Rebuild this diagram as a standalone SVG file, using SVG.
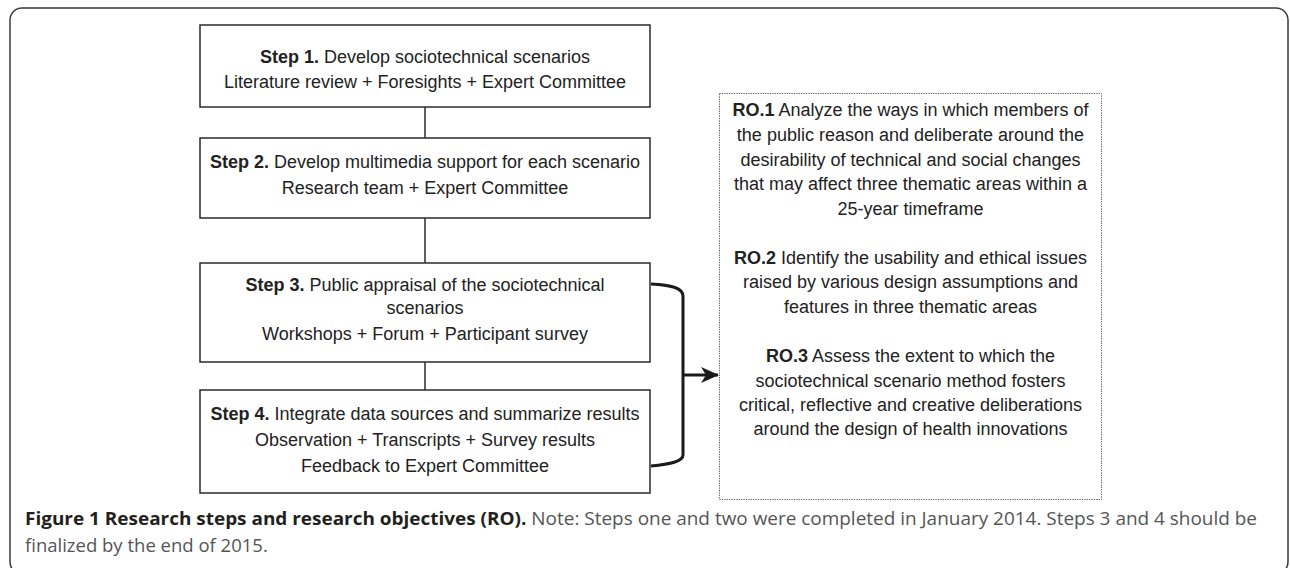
<svg xmlns="http://www.w3.org/2000/svg" width="1290" height="568" viewBox="0 0 1290 568">
<style>
.frame{fill:none;stroke:#3a3a3a;stroke-width:1.5}
.box{fill:#fff;stroke:#2b2b2b;stroke-width:1.5}
.ro{fill:#fff;stroke:#555;stroke-width:1;stroke-dasharray:1.2 1.2}
.t{font-family:"Liberation Sans",Arial,sans-serif;font-size:18px;fill:#222;text-anchor:middle}
.b{font-weight:bold}
.conn{stroke:#2b2b2b;stroke-width:1.5;fill:none}
.brace{stroke:#1a1a1a;stroke-width:3;fill:none}
.cap{font-family:"Open Sans","Noto Sans",sans-serif;font-size:18.5px;fill:#555}
.capb{font-weight:bold;fill:#231f20}
</style>
<defs>
<marker id="arr" viewBox="0 0 18 16" refX="17" refY="8" markerWidth="18" markerHeight="16" markerUnits="userSpaceOnUse" orient="auto">
<path d="M0,0 L18,8 L0,16 L5,8 Z" fill="#1a1a1a"/>
</marker>
</defs>
<rect class="frame" x="10" y="8" width="1278" height="566" rx="12"/>
<g id="connectors">
<line class="conn" x1="425" y1="107" x2="425" y2="138"/>
<line class="conn" x1="425" y1="218" x2="425" y2="263"/>
<line class="conn" x1="425" y1="362" x2="425" y2="390"/>
<path class="brace" d="M651,284 C672,285 683,288 683,296 L683,455 C683,461 672,464 651,466"/>
<line class="brace" x1="683" y1="375" x2="718" y2="375" stroke-width="2" marker-end="url(#arr)"/>
</g>
<g id="step1">
<rect class="box" x="200" y="25" width="450" height="82"/>
<text class="t" x="425" y="63"><tspan class="b">Step 1.</tspan> Develop sociotechnical scenarios</text>
<text class="t" x="425" y="88">Literature review + Foresights + Expert Committee</text>
</g>
<g id="step2">
<rect class="box" x="200" y="138" width="450" height="80"/>
<text class="t" x="425" y="168"><tspan class="b">Step 2.</tspan> Develop multimedia support for each scenario</text>
<text class="t" x="425" y="194">Research team + Expert Committee</text>
</g>
<g id="step3">
<rect class="box" x="200" y="263" width="450" height="99"/>
<text class="t" x="425" y="291"><tspan class="b">Step 3.</tspan> Public appraisal of the sociotechnical</text>
<text class="t" x="425" y="314">scenarios</text>
<text class="t" x="425" y="340">Workshops + Forum + Participant survey</text>
</g>
<g id="step4">
<rect class="box" x="200" y="390" width="450" height="103"/>
<text class="t" x="425" y="420"><tspan class="b">Step 4.</tspan> Integrate data sources and summarize results</text>
<text class="t" x="425" y="446">Observation + Transcripts + Survey results</text>
<text class="t" x="425" y="472">Feedback to Expert Committee</text>
</g>
<g id="objectives">
<rect class="ro" x="719.5" y="93.5" width="382" height="406"/>
<text class="t" x="910.5" y="116"><tspan class="b">RO.1</tspan> Analyze the ways in which members of</text>
<text class="t" x="910.5" y="141">the public reason and deliberate around the</text>
<text class="t" x="910.5" y="166">desirability of technical and social changes</text>
<text class="t" x="910.5" y="190">that may affect three thematic areas within a</text>
<text class="t" x="910.5" y="215">25-year timeframe</text>
<text class="t" x="910.5" y="264"><tspan class="b">RO.2</tspan> Identify the usability and ethical issues</text>
<text class="t" x="910.5" y="288">raised by various design assumptions and</text>
<text class="t" x="910.5" y="313">features in three thematic areas</text>
<text class="t" x="910.5" y="362"><tspan class="b">RO.3</tspan> Assess the extent to which the</text>
<text class="t" x="910.5" y="387">sociotechnical scenario method fosters</text>
<text class="t" x="910.5" y="411">critical, reflective and creative deliberations</text>
<text class="t" x="910.5" y="435">around the design of health innovations</text>
</g>
<g id="caption">
<text class="cap" x="25" y="525" textLength="1232" lengthAdjust="spacingAndGlyphs"><tspan class="capb">Figure 1 Research steps and research objectives (RO).</tspan> Note: Steps one and two were completed in January 2014. Steps 3 and 4 should be</text>
<text class="cap" x="25" y="552">finalized by the end of 2015.</text>
</g>
</svg>
